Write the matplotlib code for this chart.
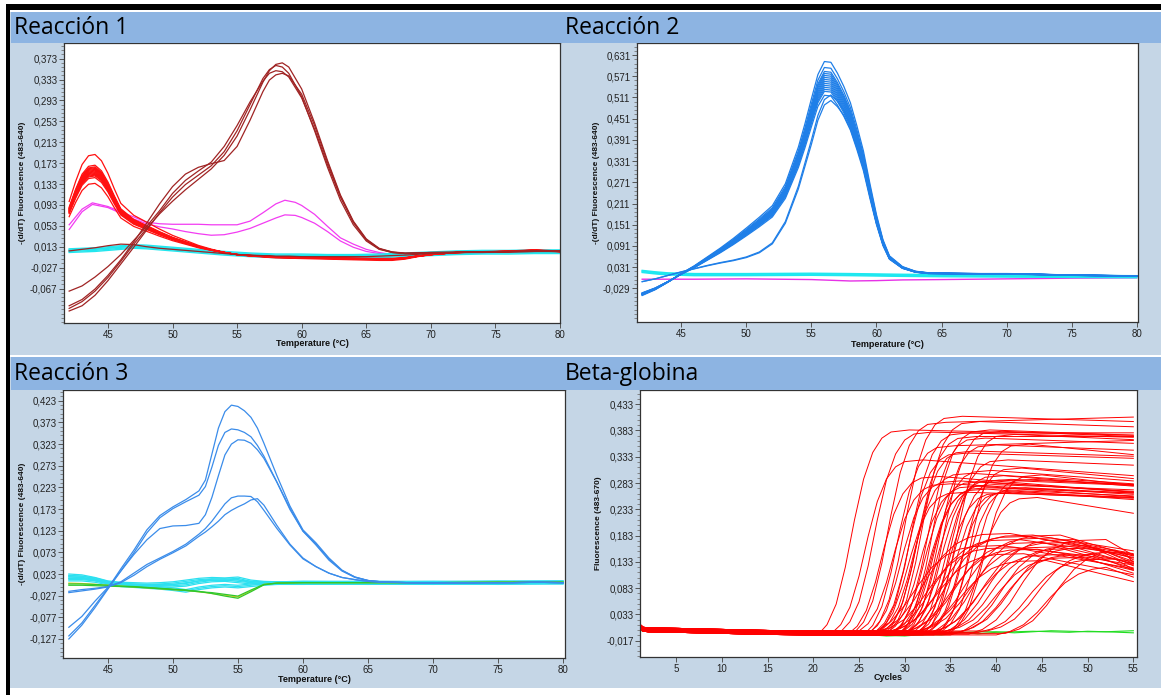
"""
Curvas de fusión (Reacción 1-3) y curvas de amplificación (Beta-globina)
"""

import matplotlib.pyplot as plt
import numpy as np
from matplotlib.patches import Rectangle
from matplotlib.ticker import AutoMinorLocator, FixedLocator, FuncFormatter

W, H = 1161, 695

# ---------------- Reacción 1 ----------------
r1_red_temp = [42, 42.5, 43, 43.5, 44, 44.5, 45, 45.5, 46, 47, 48, 49, 50, 51, 52, 53, 54, 55, 56,
               58, 60, 62, 64, 66, 67, 68, 69, 70, 72, 74, 76, 78, 80]
r1_red_curve = [0.083, 0.115, 0.142, 0.156, 0.158, 0.148, 0.128, 0.103, 0.080, 0.061, 0.050, 0.039,
                0.029, 0.021, 0.013, 0.007, 0.002, -0.002, -0.004, -0.007, -0.008, -0.009, -0.010,
                -0.011, -0.011, -0.009, -0.005, -0.002, 0.002, 0.003, 0.004, 0.006, 0.004]
r1_red_scale = [1.20, 1.07, 1.05, 1.04, 1.03, 1.02, 1.01, 1.00, 0.99, 0.98, 0.97, 0.96, 0.95,
                0.94, 0.92, 0.85]

r1_mag_temp = [42, 43, 43.8, 45, 46, 47, 48, 49, 50, 51, 52, 53, 54, 55, 56, 57, 58, 58.7, 59.5,
               60, 61, 62, 63, 64, 65, 66, 67, 68, 70, 75, 80]
r1_mag_1 = [0.055, 0.085, 0.097, 0.090, 0.080, 0.070, 0.060, 0.057, 0.056, 0.056, 0.056, 0.055,
            0.055, 0.055, 0.062, 0.078, 0.095, 0.102, 0.098, 0.092, 0.075, 0.052, 0.030, 0.018,
            0.008, 0.002, -0.002, -0.004, -0.002, 0.002, 0.004]
r1_mag_2 = [0.046, 0.080, 0.094, 0.088, 0.077, 0.066, 0.057, 0.051, 0.047, 0.042, 0.038, 0.035,
            0.036, 0.041, 0.048, 0.058, 0.068, 0.074, 0.073, 0.069, 0.058, 0.042, 0.024, 0.012,
            0.004, 0.000, -0.003, -0.004, -0.002, 0.002, 0.004]

r1_brown_temp = [42, 43, 44, 45, 46, 47, 48, 49, 50, 51, 52, 53, 54, 55, 56, 57, 57.5, 58, 58.5,
                 59, 60, 61, 62, 63, 64, 65, 66, 67, 68, 70, 72, 74, 76, 78, 80]
r1_brown_1 = [-0.105, -0.092, -0.072, -0.046, -0.015, 0.018, 0.048, 0.076, 0.100, 0.122, 0.142,
              0.162, 0.188, 0.225, 0.275, 0.328, 0.350, 0.362, 0.365, 0.357, 0.315, 0.250, 0.178,
              0.112, 0.062, 0.028, 0.010, 0.003, 0.000, 0.002, 0.002, 0.003, 0.004, 0.005, 0.004]
r1_brown_2 = [-0.110, -0.100, -0.080, -0.052, -0.020, 0.012, 0.045, 0.078, 0.108, 0.132, 0.150,
              0.168, 0.195, 0.235, 0.285, 0.335, 0.352, 0.360, 0.357, 0.345, 0.300, 0.235, 0.165,
              0.102, 0.055, 0.024, 0.008, 0.002, 0.000, 0.001, 0.002, 0.003, 0.003, 0.004, 0.004]
r1_brown_3 = [-0.072, -0.062, -0.045, -0.025, -0.002, 0.025, 0.052, 0.082, 0.115, 0.140, 0.158,
              0.175, 0.205, 0.245, 0.290, 0.330, 0.345, 0.350, 0.348, 0.338, 0.298, 0.238, 0.170,
              0.108, 0.060, 0.027, 0.009, 0.003, 0.001, 0.002, 0.003, 0.003, 0.004, 0.004, 0.005]
r1_brown_4 = [-0.100, -0.088, -0.068, -0.042, -0.012, 0.022, 0.058, 0.095, 0.128, 0.152, 0.165,
              0.172, 0.178, 0.205, 0.255, 0.310, 0.332, 0.342, 0.345, 0.340, 0.305, 0.245, 0.175,
              0.110, 0.060, 0.026, 0.009, 0.002, 0.000, 0.001, 0.002, 0.002, 0.003, 0.004, 0.004]
r1_brown_5 = [0.005, 0.008, 0.011, 0.015, 0.018, 0.017, 0.013, 0.010, 0.008, 0.006, 0.004, 0.002,
              0.000, -0.002, -0.003, -0.004, -0.004, -0.005, -0.005, -0.005, -0.006, -0.006,
              -0.006, -0.006, -0.006, -0.006, -0.005, -0.004, -0.003, 0.000, 0.002, 0.003, 0.004,
              0.005, 0.005]

r1_cyan_temp = [42, 44, 46, 47, 48, 50, 52, 54, 56, 58, 60, 62, 64, 66, 68, 70, 72, 74, 76, 78, 80]
r1_cyan_curve = [0.006, 0.008, 0.012, 0.014, 0.013, 0.009, 0.005, 0.001, -0.002, -0.004, -0.004,
                 -0.005, -0.005, -0.004, -0.002, 0.000, 0.002, 0.003, 0.003, 0.004, 0.004]
r1_cyan_shift = [-0.004, -0.002, 0.0, 0.001, 0.003]

r1_yticks = [-0.067, -0.027, 0.013, 0.053, 0.093, 0.133, 0.173, 0.213, 0.253, 0.293, 0.333, 0.373]

# ---------------- Reacción 2 ----------------
r2_temp = [42, 43, 44, 45, 46, 47, 48, 49, 50, 51, 52, 53, 54, 54.5, 55, 55.5, 56, 56.5, 57, 57.5,
           58, 58.5, 59, 59.5, 60, 60.5, 61, 62, 63, 64, 66, 68, 70, 72, 74, 76, 78, 80]
r2_blue_main = [-0.045, -0.030, -0.010, 0.012, 0.032, 0.055, 0.078, 0.103, 0.130, 0.158, 0.188,
                0.245, 0.340, 0.400, 0.465, 0.528, 0.562, 0.560, 0.532, 0.497, 0.455, 0.395,
                0.330, 0.245, 0.165, 0.100, 0.058, 0.030, 0.018, 0.014, 0.013, 0.012, 0.012,
                0.011, 0.009, 0.008, 0.007, 0.006]
r2_blue_scale = [1.09, 1.06, 1.04, 1.03, 1.02, 1.01, 1.00, 0.99, 0.98, 0.97, 0.96, 0.95, 0.94, 0.92]
r2_blue_late = [-0.010, -0.002, 0.008, 0.018, 0.027, 0.036, 0.044, 0.051, 0.060, 0.074, 0.100,
                0.160, 0.260, 0.325, 0.390, 0.460, 0.505, 0.518, 0.500, 0.475, 0.435, 0.380,
                0.320, 0.240, 0.160, 0.100, 0.057, 0.029, 0.018, 0.014, 0.013, 0.012, 0.012,
                0.011, 0.009, 0.008, 0.007, 0.006]
r2_blue_late_scale = [1.00, 0.97]

r2_base_temp = [42, 43, 44, 46, 50, 55, 58, 60, 62, 65, 70, 75, 80]
r2_cyan_curve = [0.020, 0.016, 0.013, 0.011, 0.011, 0.012, 0.011, 0.010, 0.009, 0.008, 0.007,
                 0.006, 0.005]
r2_cyan_shift = [-0.004, -0.002, 0.0, 0.002]
r2_mag_curve = [-0.003, -0.003, -0.003, -0.003, -0.002, -0.004, -0.008, -0.007, -0.005, -0.004,
                -0.002, 0.000, 0.001]

r2_yticks = [-0.029, 0.031, 0.091, 0.151, 0.211, 0.271, 0.331, 0.391, 0.451, 0.511, 0.571, 0.631]

# ---------------- Reacción 3 ----------------
r3_temp = [42, 43, 44, 45, 46, 47, 48, 49, 50, 51, 52, 52.5, 53, 53.5, 54, 54.5, 55, 55.5, 56,
           56.5, 57, 58, 59, 60, 61, 62, 63, 64, 65, 66, 68, 70, 72, 74, 76, 78, 80]
r3_blue = [
    [-0.120, -0.090, -0.050, -0.010, 0.035, 0.078, 0.125, 0.158, 0.178, 0.195, 0.215, 0.240, 0.300,
     0.360, 0.398, 0.413, 0.410, 0.400, 0.385, 0.360, 0.325, 0.250, 0.180, 0.125, 0.095, 0.060,
     0.032, 0.016, 0.008, 0.005, 0.003, 0.002, 0.002, 0.003, 0.003, 0.004, 0.003],
    [-0.127, -0.095, -0.055, -0.012, 0.030, 0.072, 0.118, 0.153, 0.174, 0.190, 0.205, 0.225, 0.270,
     0.320, 0.350, 0.358, 0.356, 0.350, 0.340, 0.320, 0.295, 0.235, 0.172, 0.122, 0.092, 0.058,
     0.031, 0.016, 0.008, 0.005, 0.003, 0.002, 0.002, 0.003, 0.003, 0.004, 0.003],
    [-0.100, -0.075, -0.040, -0.008, 0.030, 0.068, 0.102, 0.128, 0.134, 0.135, 0.140, 0.160, 0.200,
     0.250, 0.298, 0.323, 0.333, 0.332, 0.325, 0.310, 0.290, 0.235, 0.175, 0.122, 0.090, 0.055,
     0.030, 0.015, 0.008, 0.005, 0.003, 0.002, 0.002, 0.003, 0.003, 0.004, 0.003],
    [-0.017, -0.013, -0.010, -0.006, 0.005, 0.025, 0.045, 0.060, 0.075, 0.092, 0.115, 0.128, 0.145,
     0.165, 0.185, 0.199, 0.203, 0.203, 0.202, 0.190, 0.170, 0.128, 0.090, 0.058, 0.040, 0.025,
     0.015, 0.010, 0.006, 0.004, 0.003, 0.002, 0.002, 0.003, 0.003, 0.004, 0.003],
    [-0.020, -0.016, -0.012, -0.007, 0.003, 0.020, 0.040, 0.057, 0.072, 0.088, 0.110, 0.120, 0.132,
     0.145, 0.160, 0.170, 0.178, 0.185, 0.194, 0.197, 0.182, 0.135, 0.092, 0.060, 0.040, 0.025,
     0.015, 0.010, 0.006, 0.004, 0.003, 0.002, 0.002, 0.003, 0.003, 0.004, 0.003],
]

r3_base_temp = [42, 43, 44, 45, 46, 47, 48, 49, 50, 51, 52, 53, 54, 55, 56, 57, 58, 60, 65, 70, 75, 80]
r3_cyan = [
    [0.016, 0.015, 0.011, 0.003, -0.001, -0.003, -0.004, -0.004, -0.004, -0.002, 0.004, 0.008,
     0.009, 0.006, 0.003, 0.002, 0.002, 0.003, 0.003, 0.002, 0.004, 0.003],
    [0.010, 0.010, 0.007, 0.001, -0.003, -0.005, -0.007, -0.009, -0.012, -0.016, -0.010, -0.006,
     -0.004, -0.006, -0.003, 0.000, 0.002, 0.003, 0.002, 0.003, 0.002, 0.004],
    [0.020, 0.018, 0.012, 0.004, 0.001, 0.000, -0.001, 0.000, 0.002, 0.006, 0.010, 0.012, 0.011,
     0.013, 0.006, 0.003, 0.002, 0.002, 0.003, 0.003, 0.003, 0.004],
]
r3_cyan_shift = [-0.003, 0.0, 0.003]
r3_green = [
    [0.000, 0.000, -0.001, -0.003, -0.005, -0.006, -0.008, -0.010, -0.012, -0.014, -0.017, -0.022,
     -0.028, -0.033, -0.018, -0.002, 0.002, 0.003, 0.003, 0.003, 0.004, 0.004],
    [-0.003, -0.003, -0.004, -0.005, -0.006, -0.007, -0.009, -0.011, -0.013, -0.015, -0.018,
     -0.020, -0.024, -0.028, -0.014, -0.001, 0.002, 0.003, 0.003, 0.003, 0.004, 0.004],
]
r3_yellow = [0.002, 0.001, -0.001, -0.003, -0.005, -0.007, -0.009, -0.011, -0.013, -0.015, -0.018,
             -0.022, -0.026, -0.030, -0.016, -0.001, 0.002, 0.003, 0.003, 0.003, 0.004, 0.004]

r3_yticks = [-0.127, -0.077, -0.027, 0.023, 0.073, 0.123, 0.173, 0.223, 0.273, 0.323, 0.373, 0.423]

# ---------------- Beta-globina ----------------
amp_drift_cycle = [1, 1.4, 2, 5, 10, 15, 20]
amp_drift = [0.010, 0.004, 0.003, 0.002, 0.000, -0.002, -0.003]
amp_level = [-0.003, 0.0, 0.003, -0.0015, 0.0015, 0.0045]
amp_rise_frac = [0.0, 0.05, 0.15, 0.33, 0.56, 0.76, 0.89, 0.96, 0.99, 1.0]
amp_fast_step = [0, 1, 2, 3, 4, 5, 6, 7, 8, 10]
amp_slow_step = [0, 1.5, 3, 4.5, 6, 7.5, 9, 10.5, 12, 15]

amp_fast_ct = [20.5, 22.0, 23.0, 23.8, 24.5, 25.0, 25.5, 26.0, 26.3, 26.7,
               27.0, 27.3, 27.6, 28.0, 28.2, 28.5, 28.8, 29.0, 29.3, 29.5,
               29.8, 30.0, 30.3, 30.6, 31.0, 31.3, 31.6, 32.0, 32.4, 32.8,
               33.2, 33.6, 34.0, 34.5, 35.0, 27.8, 29.1, 30.8, 26.8, 31.8]
amp_fast_top = [0.39, 0.33, 0.38, 0.30, 0.40, 0.28, 0.36, 0.29, 0.41, 0.27,
                0.38, 0.30, 0.35, 0.28, 0.40, 0.29, 0.37, 0.27, 0.39, 0.31,
                0.28, 0.36, 0.29, 0.38, 0.27, 0.33, 0.29, 0.38, 0.27, 0.31,
                0.28, 0.36, 0.29, 0.26, 0.30, 0.37, 0.28, 0.30, 0.34, 0.27]
amp_fast_end = [0.38, 0.30, 0.37, 0.27, 0.41, 0.26, 0.37, 0.27, 0.40, 0.26,
                0.38, 0.28, 0.34, 0.26, 0.39, 0.27, 0.36, 0.25, 0.38, 0.29,
                0.27, 0.35, 0.28, 0.37, 0.26, 0.32, 0.28, 0.37, 0.26, 0.29,
                0.27, 0.34, 0.28, 0.23, 0.28, 0.37, 0.27, 0.28, 0.33, 0.26]

amp_slow_ct = [25.5, 26.5, 27.0, 27.5, 28.0, 28.5, 29.0, 29.5, 30.0, 30.5,
               31.0, 31.5, 32.0, 32.5, 33.0, 33.5, 34.0, 34.5, 35.0, 35.5,
               36.0, 37.0, 38.0, 39.0, 40.0, 41.0]
amp_slow_top = [0.17, 0.19, 0.16, 0.18, 0.15, 0.18, 0.19, 0.16, 0.17, 0.14,
                0.18, 0.16, 0.19, 0.15, 0.17, 0.18, 0.16, 0.14, 0.17, 0.15,
                0.16, 0.18, 0.14, 0.15, 0.13, 0.16]
amp_slow_end = [0.14, 0.15, 0.12, 0.15, 0.11, 0.14, 0.16, 0.13, 0.13, 0.10,
                0.15, 0.12, 0.15, 0.12, 0.14, 0.13, 0.13, 0.11, 0.14, 0.12,
                0.13, 0.15, 0.12, 0.13, 0.11, 0.14]

amp_green_cycle = [1, 5, 10, 15, 20, 25, 28, 30, 32, 34, 36, 38, 40, 42, 44, 46, 48, 50, 52, 55]
amp_green = [
    [0.003, 0.002, 0.000, -0.002, -0.003, -0.004, -0.008, -0.007, -0.006, -0.004,
     0.000, -0.004, -0.001, 0.000, 0.001, 0.000, -0.001, 0.001, 0.000, 0.002],
    [0.002, 0.001, -0.001, -0.003, -0.004, -0.005, -0.006, -0.008, -0.005, -0.006,
     -0.002, 0.000, 0.000, -0.002, 0.000, 0.002, 0.001, 0.000, 0.000, -0.002],
]
amp_last_cycle = 55

r4_yticks = [-0.017, 0.033, 0.083, 0.133, 0.183, 0.233, 0.283, 0.333, 0.383, 0.433]
temp_xticks = [45, 50, 55, 60, 65, 70, 75, 80]
cycle_xticks = [5, 10, 15, 20, 25, 30, 35, 40, 45, 50, 55]

PANEL_BG = '#C5D6E6'
HEADER_BG = '#8DB4E2'


def fig_box(x0, y0, x1, y1):
    """Pixel box (top-left origin) -> figure fraction [l, b, w, h]."""
    return [x0 / W, 1 - y1 / H, (x1 - x0) / W, (y1 - y0) / H]


def add_rect(fig, box, color, z=1):
    l, b, w, h = fig_box(*box)
    fig.add_artist(Rectangle((l, b), w, h, transform=fig.transFigure,
                             facecolor=color, edgecolor='none', zorder=z))


def comma_fmt(v, _pos):
    return f'{v:.3f}'.replace('.', ',')


def setup_axes(fig, box, xlim, ylim, xticks, yticks, xlabel, ylabel, ylabel_x, xlabel_y):
    ax = fig.add_axes(fig_box(*box))
    ax.set_facecolor('white')
    ax.set_xlim(*xlim)
    ax.set_ylim(*ylim)
    ax.xaxis.set_major_locator(FixedLocator(xticks))
    ax.yaxis.set_major_locator(FixedLocator(yticks))
    ax.yaxis.set_minor_locator(AutoMinorLocator(5))
    ax.yaxis.set_major_formatter(FuncFormatter(comma_fmt))
    ax.tick_params(axis='both', which='major', direction='out', length=3.5, width=0.7,
                   color='#555555', labelsize=7, labelcolor='#222222', pad=1.2)
    ax.tick_params(axis='y', which='minor', direction='out', length=2, width=0.6,
                   color='#777777')
    for lab in ax.get_xticklabels() + ax.get_yticklabels():
        lab.set_family('Liberation Sans')
    for sp in ax.spines.values():
        sp.set_color('#333333')
        sp.set_linewidth(0.9)

    x0, y0, x1, y1 = box
    ax.set_ylabel(ylabel, fontsize=6, fontweight='bold', family='Liberation Sans',
                  va='center', color='#111111')
    ax.yaxis.set_label_coords((ylabel_x - x0) / (x1 - x0), 0.5)
    ax.set_xlabel(xlabel, fontsize=6.5, fontweight='bold', family='Liberation Sans',
                  va='center', color='#111111')
    ax.xaxis.set_label_coords(0.5, -(xlabel_y - y1) / (y1 - y0))
    return ax


fig = plt.figure(figsize=(W / 100, H / 100), dpi=100, facecolor=PANEL_BG)

# slide frame: white margins, black border, header bands
add_rect(fig, (0, 0, W, 4), 'white')
add_rect(fig, (0, 0, 6, H), 'white')
add_rect(fig, (6, 4, W, 10), 'black', z=3)
add_rect(fig, (6, 4, 10, H), 'black', z=3)
add_rect(fig, (10, 10, W, 12), 'white')
add_rect(fig, (11, 12, W, 43), HEADER_BG)
add_rect(fig, (10, 355, W, 357), 'white')
add_rect(fig, (11, 357, W, 390), HEADER_BG)
add_rect(fig, (10, 688, W, H), 'white')

for x, y, title in [(14, 28, 'Reacción 1'), (565, 28, 'Reacción 2'),
                    (14, 374, 'Reacción 3'), (565, 374, 'Beta-globina')]:
    fig.text(x / W, 1 - y / H, title, ha='left', va='center', fontsize=16.5,
             family='Open Sans', color='black', zorder=4)

temp_label = 'Temperature (°C)'
melt_label = '-(d/dT) Fluorescence (483-640)'

# ---- Reacción 1 ----
ax1 = setup_axes(fig, (64, 43, 560, 323), (41.6, 80.0), (-0.133, 0.403), temp_xticks,
                 r1_yticks, temp_label, melt_label, 23, 344)
for m in (r1_mag_1, r1_mag_2):
    ax1.plot(r1_mag_temp, m, color='#F23CF2', lw=0.9)
for s in r1_cyan_shift:
    ax1.plot(r1_cyan_temp, np.array(r1_cyan_curve) + s, color='#22E6EE', lw=1.0)
for s in r1_red_scale:
    ax1.plot(r1_red_temp, np.array(r1_red_curve) * s, color='#FF1010', lw=0.9)
for b in (r1_brown_1, r1_brown_2, r1_brown_3, r1_brown_4, r1_brown_5):
    ax1.plot(r1_brown_temp, b, color='#A02424', lw=0.9)

# ---- Reacción 2 ----
ax2 = setup_axes(fig, (637, 43, 1138, 322), (41.6, 80.1), (-0.124, 0.665), temp_xticks,
                 r2_yticks, temp_label, melt_label, 597, 344)
ax2.plot(r2_base_temp, r2_mag_curve, color='#E632E6', lw=1.0)
for s in r2_cyan_shift:
    ax2.plot(r2_base_temp, np.array(r2_cyan_curve) + s, color='#1EE8F0', lw=1.0)
for s in r2_blue_scale:
    ax2.plot(r2_temp, np.array(r2_blue_main) * s, color='#1F7FE8', lw=0.9)
for s in r2_blue_late_scale:
    ax2.plot(r2_temp, np.array(r2_blue_late) * s, color='#1F7FE8', lw=0.9)

# ---- Reacción 3 ----
ax3 = setup_axes(fig, (63, 390, 565, 658), (41.55, 80.15), (-0.171, 0.448), temp_xticks,
                 r3_yticks, temp_label, melt_label, 23, 680)
for c in r3_cyan:
    for s in r3_cyan_shift:
        ax3.plot(r3_base_temp, np.array(c) + s, color='#2CE0F0', lw=0.9)
ax3.plot(r3_base_temp, r3_yellow, color='#E8C81E', lw=0.9)
for g in r3_green:
    ax3.plot(r3_base_temp, g, color='#2EC82E', lw=0.9)
for b in r3_blue:
    ax3.plot(r3_temp, b, color='#3A8CEA', lw=0.9)

# ---- Beta-globina ----
ax4 = setup_axes(fig, (640, 390, 1137, 657), (1.05, 55.4), (-0.048, 0.460), cycle_xticks,
                 r4_yticks, 'Cycles', 'Fluorescence (483-670)', 599, 678)
for g in amp_green:
    ax4.plot(amp_green_cycle, g, color='#22DD22', lw=0.8)


def amp_curve(ct, top, end, step, lvl):
    xs = [c for c in amp_drift_cycle if c < ct]
    ys = [lvl + d for c, d in zip(amp_drift_cycle, amp_drift) if c < ct]
    base = lvl + amp_drift[-1]
    for st, fr in zip(step, amp_rise_frac):
        if ct + st < amp_last_cycle:
            xs.append(ct + st)
            ys.append(base + top * fr)
    xs.append(amp_last_cycle)
    ys.append(base + end)
    return xs, ys


for i, (ct, top, end) in enumerate(zip(amp_slow_ct, amp_slow_top, amp_slow_end)):
    xs, ys = amp_curve(ct, top, end, amp_slow_step, amp_level[i % len(amp_level)])
    ax4.plot(xs, ys, color='#FF0000', lw=0.7)
for i, (ct, top, end) in enumerate(zip(amp_fast_ct, amp_fast_top, amp_fast_end)):
    xs, ys = amp_curve(ct, top, end, amp_fast_step, amp_level[i % len(amp_level)])
    ax4.plot(xs, ys, color='#FF0000', lw=0.7)

fig.savefig('out.png', dpi=100, facecolor=fig.get_facecolor())
